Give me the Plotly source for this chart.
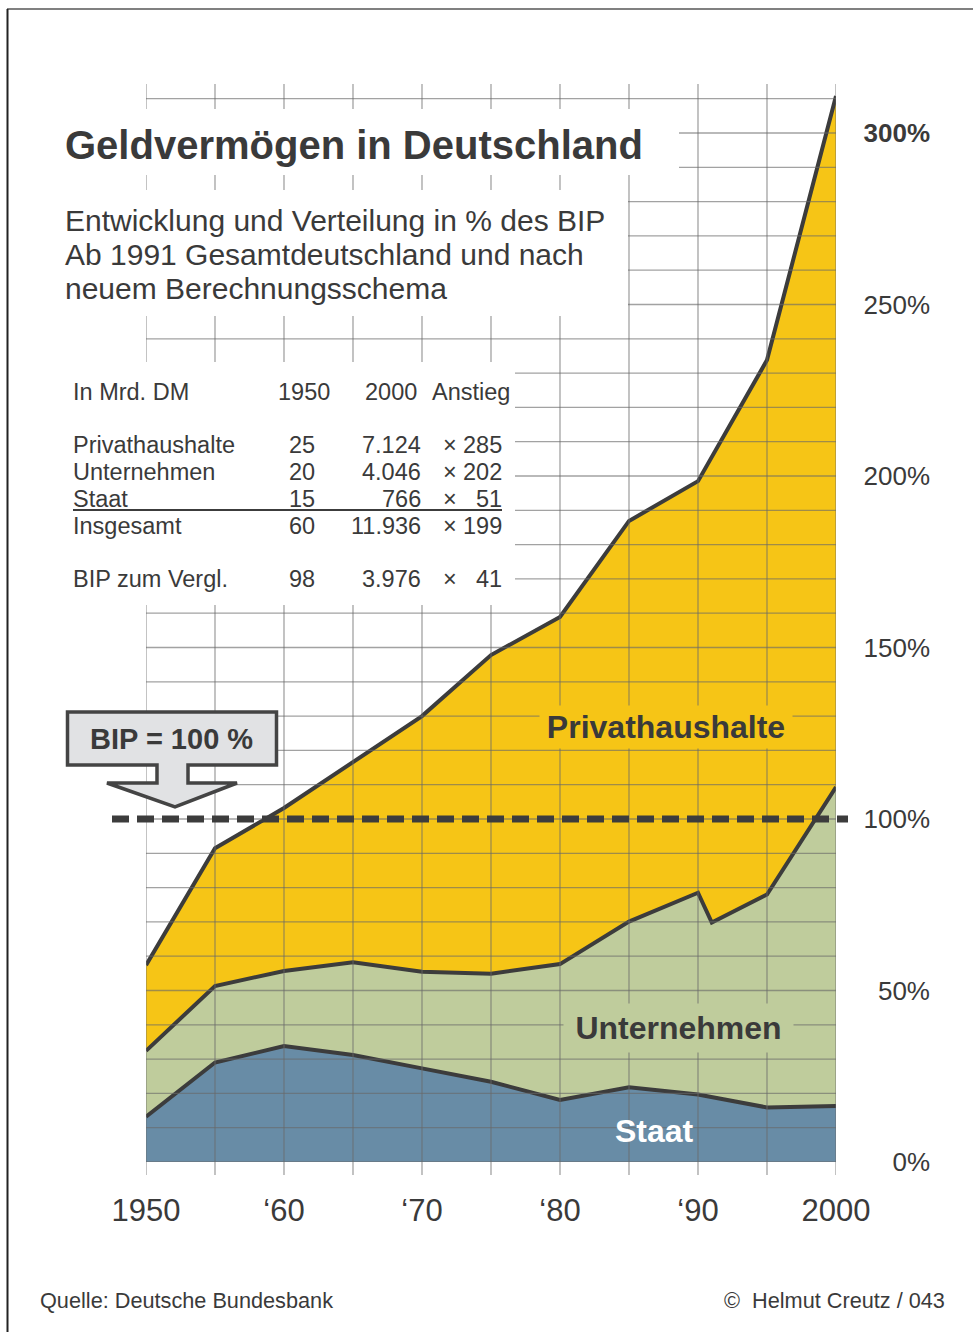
import plotly.graph_objects as go

# ---------------- data (levels in % of BIP, stacked boundaries) ----------------
years_total = [1950, 1955, 1960, 1965, 1970, 1975, 1980, 1985, 1990, 1995, 1998, 2000]
total_pct = [57.4, 91.5, 103.2, 116.6, 130.0, 147.8, 158.9, 186.9, 198.5, 233.8, 280.0, 310.8]

years_unt = [1950, 1955, 1960, 1965, 1970, 1975, 1980, 1985, 1990, 1991, 1995, 2000]
unt_top_pct = [32.4, 51.3, 55.7, 58.2, 55.5, 54.9, 57.7, 70.1, 78.5, 69.8, 78.0, 109.3]

years_staat = [1950, 1955, 1960, 1965, 1970, 1975, 1980, 1985, 1990, 1995, 2000]
staat_pct = [13.2, 29.0, 33.8, 31.2, 27.3, 23.4, 18.1, 21.8, 19.7, 15.9, 16.3]

x_tickvals = [1950, 1960, 1970, 1980, 1990, 2000]
x_ticktext = ["1950", "\u201860", "\u201870", "\u201880", "\u201890", "2000"]
y_tickvals = [0, 50, 100, 150, 200, 250, 300]
y_ticktext = ["0%", "50%", "100%", "150%", "200%", "250%", "<b>300%</b>"]

grid_years = list(range(1950, 2001, 5))
grid_pcts = list(range(0, 311, 10))
bip_level = 100

table_header = ["In Mrd. DM", "1950", "2000", "Anstieg"]
table_rows = ["Privathaushalte", "Unternehmen", "Staat", "Insgesamt", "BIP zum Vergl."]
table_1950 = ["25", "20", "15", "60", "98"]
table_2000 = ["7.124", "4.046", "766", "11.936", "3.976"]
table_factor = ["285", "202", "51", "199", "41"]

# ---------------- styling ----------------
W, H = 973, 1332
ML, MT, MB = 146, 85, 170
PW = W - ML          # paper width in px (right margin 0)
PH = H - MT - MB     # paper height in px
PLOT_R = 836

YELLOW = "#F6C516"
GREEN = "#BFCC9C"
BLUE = "#688CA6"
DARK = "#3c3c3c"
TXT = "#3a3a3a"
GRID = "rgba(105,105,105,0.62)"
FONT = "Liberation Sans, Arial, sans-serif"


def px(x):
    return (x - ML) / PW


def py(y):
    return (MT + PH - y) / PH


fig = go.Figure()
fig.add_trace(go.Scatter(x=years_total, y=total_pct, mode="lines", fill="tozeroy",
                         fillcolor=YELLOW, line=dict(color=DARK, width=4),
                         hoverinfo="skip", showlegend=False))
fig.add_trace(go.Scatter(x=years_unt, y=unt_top_pct, mode="lines", fill="tozeroy",
                         fillcolor=GREEN, line=dict(color=DARK, width=4),
                         hoverinfo="skip", showlegend=False))
fig.add_trace(go.Scatter(x=years_staat, y=staat_pct, mode="lines", fill="tozeroy",
                         fillcolor=BLUE, line=dict(color=DARK, width=4),
                         hoverinfo="skip", showlegend=False))

shapes = []
# horizontal grid
for v in grid_pcts:
    shapes.append(dict(type="line", xref="x", yref="y", x0=1950, x1=2000, y0=v, y1=v,
                       line=dict(color=GRID, width=1.3), layer="above"))
# vertical grid (extending a little below the 0 line)
for yr in grid_years:
    shapes.append(dict(type="line", xref="x", yref="paper", x0=yr, x1=yr,
                       y0=py(1175), y1=py(84), line=dict(color=GRID, width=1.3), layer="above"))
# white panels behind title / subtitle / table
for (x0, y0, x1, y1) in [(20, 109, 679, 175), (20, 190, 628, 316), (20, 362, 515, 605)]:
    shapes.append(dict(type="rect", xref="paper", yref="paper", x0=px(x0), x1=px(x1),
                       y0=py(y1), y1=py(y0), fillcolor="white", line=dict(width=0), layer="above"))

# BIP = 100 % arrow box
pts = [(67.5, 712), (276.5, 712), (276.5, 765), (188, 765), (188, 783), (237, 783),
       (175, 807), (107, 783), (157, 783), (157, 765), (67.5, 765)]
path = "M " + " L ".join(f"{px(a):.5f},{py(b):.5f}" for a, b in pts) + " Z"
shapes.append(dict(type="path", xref="paper", yref="paper", path=path,
                   fillcolor="#E1E2E4", line=dict(color="#444444", width=3.5), layer="above"))

# dashed BIP line
shapes.append(dict(type="line", xref="paper", yref="y", x0=px(112), x1=px(848),
                   y0=bip_level, y1=bip_level,
                   line=dict(color=DARK, width=7, dash="17px,8px"), layer="above"))

# table underline
shapes.append(dict(type="line", xref="paper", yref="paper", x0=px(73), x1=px(502),
                   y0=py(510), y1=py(510), line=dict(color=DARK, width=2), layer="above"))

# frame lines
shapes.append(dict(type="line", xref="paper", yref="paper", x0=px(7), x1=px(973),
                   y0=py(9), y1=py(9), line=dict(color="#808080", width=2), layer="above"))
shapes.append(dict(type="line", xref="paper", yref="paper", x0=px(7.5), x1=px(7.5),
                   y0=py(1332), y1=py(9), line=dict(color="#222222", width=2), layer="above"))

ann = []


def text(x, y, s, size, anchor="left", bold=False, color=TXT, **kw):
    if bold:
        s = f"<b>{s}</b>"
    ann.append(dict(xref="paper", yref="paper", x=px(x), y=py(y), text=s, showarrow=False,
                    xanchor=anchor, yanchor="middle",
                    font=dict(family=FONT, size=size, color=color), **kw))


text(63, 145, "Geldvermögen in Deutschland", 40, bold=True)
text(63, 220, "Entwicklung und Verteilung in % des BIP", 30)
text(63, 254, "Ab 1991 Gesamtdeutschland und nach", 30)
text(63, 288, "neuem Berechnungsschema", 30)

TS = 23.5
text(71, 392, table_header[0], TS)
text(332, 392, table_header[1], TS, anchor="right")
text(419, 392, table_header[2], TS, anchor="right")
text(430, 392, table_header[3], TS)
row_y = [445, 472, 499, 526, 579]
for i, yv in enumerate(row_y):
    text(71, yv, table_rows[i], TS)
    text(317, yv, table_1950[i], TS, anchor="right")
    text(423, yv, table_2000[i], TS, anchor="right")
    text(450, yv, "×", TS, anchor="center")
    text(504, yv, table_factor[i], TS, anchor="right")

text(171, 739, "BIP = 100 %", 29, anchor="center", bold=True)

text(666, 727, "Privathaushalte", 32, anchor="center", bold=True,
     bgcolor=YELLOW, width=250, height=40)
text(678, 1028, "Unternehmen", 32, anchor="center", bold=True,
     bgcolor=GREEN, width=227, height=46)
text(654, 1131, "Staat", 32, anchor="center", bold=True, color="white")

text(38, 1300, "Quelle: Deutsche Bundesbank", 21.7)
text(947, 1300, "©  Helmut Creutz / 043", 21.7, anchor="right")

fig.update_layout(
    width=W, height=H, template="none",
    paper_bgcolor="white", plot_bgcolor="white",
    margin=dict(l=ML, r=0, t=MT, b=MB, pad=0, autoexpand=False),
    showlegend=False,
    shapes=shapes, annotations=ann,
    xaxis=dict(domain=[0, (PLOT_R - ML) / PW], range=[1950, 2000], tickvals=x_tickvals,
               ticktext=x_ticktext, showgrid=False, zeroline=False, showline=False,
               ticks="outside", ticklen=21, tickcolor="rgba(0,0,0,0)",
               tickfont=dict(family=FONT, size=31, color=TXT), automargin=False,
               fixedrange=True),
    yaxis=dict(domain=[0, 1], range=[0, 314], anchor="free", position=px(930), side="left",
               tickvals=y_tickvals, ticktext=y_ticktext, showgrid=False, zeroline=False,
               showline=False, ticks="", tickfont=dict(family=FONT, size=26, color=TXT),
               automargin=False, fixedrange=True),
)

fig.write_html("out.html", config={"displayModeBar": False},
               post_script="document.body.style.margin='0px';")
